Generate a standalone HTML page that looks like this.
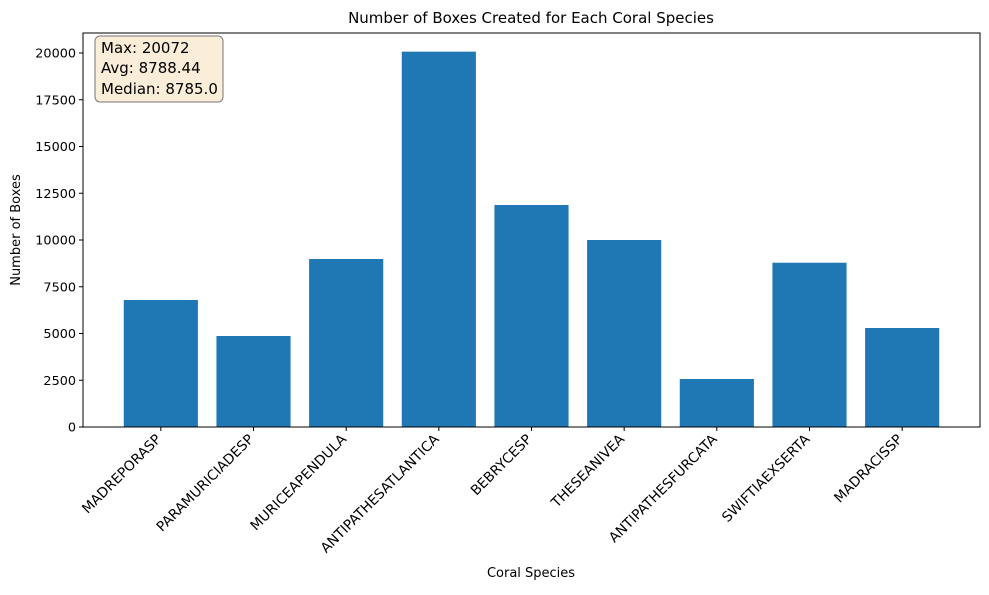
<!DOCTYPE html>
<html><head><meta charset="utf-8"><style>
body{margin:0;background:#fff;font-family:"Liberation Sans","DejaVu Sans",sans-serif;}
svg text{font-family:"DejaVu Sans","Liberation Sans",sans-serif;}
</style></head><body>
<svg id="chart" width="989" height="590" xmlns="http://www.w3.org/2000/svg">
<rect width="989" height="590" fill="#fff"/>
<text x="531" y="23" text-anchor="middle" font-size="15">Number of Boxes Created for Each Coral Species</text>
<text x="531" y="577" text-anchor="middle" font-size="13">Coral Species</text>
<text transform="translate(20,230) rotate(-90)" text-anchor="middle" font-size="13">Number of Boxes</text>
<g id="bars"></g><g id="axes"></g>
<g>
<rect x="95" y="36" width="128" height="66" rx="5" fill="#f5deb3" fill-opacity="0.5" stroke="#777" stroke-width="1"/>
<text x="101" y="53" font-size="15">Max: 20072</text>
<text x="101" y="73" font-size="15">Avg: 8788.44</text>
<text x="101" y="94" font-size="15">Median: 8785.0</text>
</g>
</svg>
<script>
const categories=["MADREPORASP","PARAMURICIADESP","MURICEAPENDULA","ANTIPATHESATLANTICA","BEBRYCESP","THESEANIVEA","ANTIPATHESFURCATA","SWIFTIAEXSERTA","MADRACISSP"];
const values=[6790,4866,8984,20072,11872,10000,2567,8785,5294];
const yTicks=[0,2500,5000,7500,10000,12500,15000,17500,20000];
const NS="http://www.w3.org/2000/svg";
const L=83,R=980,T=33,B=427;
const x=i=>L+(i+0.84)*(R-L)/(categories.length-1+1.68);
const y=v=>B-v*(B-53)/20000;
const bw=0.8*(R-L)/(categories.length-1+1.68);
const bars=document.getElementById('bars'),axes=document.getElementById('axes');
function mk(t,a,p){const e=document.createElementNS(NS,t);for(const k in a)e.setAttribute(k,a[k]);p.appendChild(e);return e;}
values.forEach((v,i)=>{
 const r=mk('rect',{x:x(i)-bw/2,y:y(v),width:bw,height:B-y(v),fill:'#1f77b4'},bars);
 
 
 mk('line',{x1:x(i),x2:x(i),y1:B,y2:B+4,stroke:'#000'},axes);
 const t=mk('text',{transform:`translate(${x(i)+1},${B+13}) rotate(-45)`,'text-anchor':'end','font-size':'13.8'},axes);
 t.textContent=categories[i];
 
 
});
yTicks.forEach(v=>{
 mk('line',{x1:L-4,x2:L,y1:y(v),y2:y(v),stroke:'#000'},axes);
 const t=mk('text',{x:L-7,y:y(v)+4.5,'text-anchor':'end','font-size':'12.8'},axes);
 t.textContent=v;
 
 
});
const f=mk('rect',{x:L,y:T,width:R-L,height:B-T,fill:'none',stroke:'#000','stroke-width':1},axes);


</script>
</body></html>
